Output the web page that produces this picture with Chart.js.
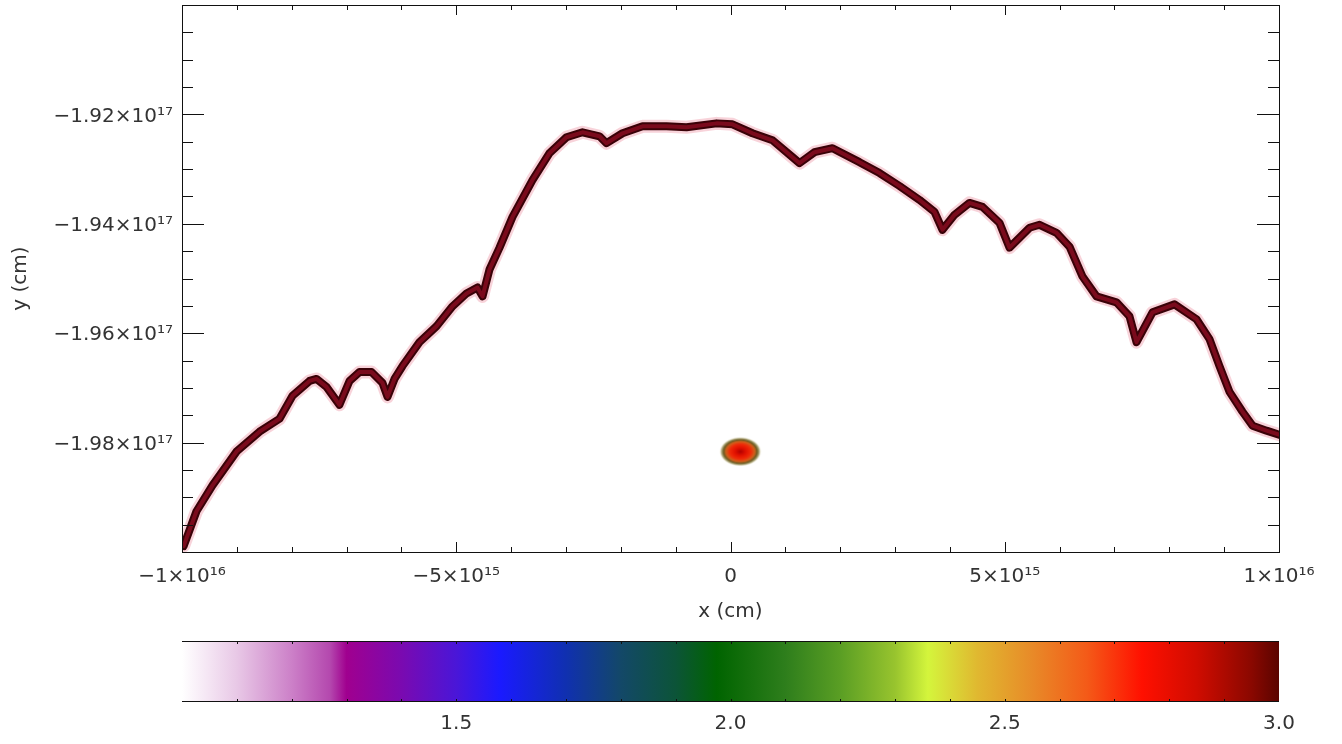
<!DOCTYPE html>
<html><head><meta charset="utf-8">
<script src="https://cdn.jsdelivr.net/npm/chart.js@4.4.1/dist/chart.umd.min.js"></script>
<style>
html,body{margin:0;padding:0;background:#fff;overflow:hidden}
#wrap{position:relative;width:1342px;height:744px;background:#fff}
#main{position:absolute;left:0;top:0}
#cbar{position:absolute;left:0;top:640px}
</style></head><body>
<div id="wrap"><canvas id="main" width="1342" height="640"></canvas><canvas id="cbar" width="1342" height="104"></canvas></div>
<script>
// ---- data (cm) ----
const frontX = [-9.97e15,-9.736e15,-9.444e15,-9.006e15,-8.587e15,-8.222e15,-7.985e15,-7.675e15,-7.548e15,-7.366e15,
  -7.129e15,-6.946e15,-6.764e15,-6.545e15,-6.345e15,-6.253e15,-6.126e15,-5.98e15,-5.67e15,-5.36e15,
  -5.068e15,-4.813e15,-4.613e15,-4.521e15,-4.394e15,-4.211e15,-3.974e15,-3.61e15,-3.3e15,-2.99e15,
  -2.698e15,-2.388e15,-2.261e15,-1.969e15,-1.604e15,-1.167e15,-0.802e15,-0.255e15,0.036e15,0.401e15,
  0.766e15,1.13e15,1.258e15,1.531e15,1.86e15,2.352e15,2.717e15,3.081e15,3.446e15,3.719e15,
  3.865e15,4.084e15,4.357e15,4.594e15,4.904e15,5.087e15,5.451e15,5.634e15,5.943e15,6.181e15,
  6.418e15,6.673e15,7.037e15,7.274e15,7.402e15,7.694e15,8.095e15,8.496e15,8.733e15,8.915e15,
  9.098e15,9.335e15,9.517e15,9.772e15,1.0e16];
const frontY = [-1.99891e17,-1.99255e17,-1.98782e17,-1.98164e17,-1.978e17,-1.97564e17,-1.97145e17,-1.96873e17,-1.96836e17,-1.96982e17,
  -1.97309e17,-1.96873e17,-1.96709e17,-1.96709e17,-1.96909e17,-1.97164e17,-1.96836e17,-1.966e17,-1.96164e17,-1.95873e17,
  -1.95509e17,-1.95273e17,-1.95164e17,-1.95327e17,-1.94836e17,-1.94436e17,-1.93873e17,-1.932e17,-1.92709e17,-1.92418e17,
  -1.92327e17,-1.924e17,-1.92527e17,-1.92345e17,-1.92218e17,-1.92218e17,-1.92236e17,-1.92164e17,-1.92182e17,-1.92345e17,
  -1.92473e17,-1.92782e17,-1.92891e17,-1.92691e17,-1.92618e17,-1.92873e17,-1.93073e17,-1.93309e17,-1.93564e17,-1.93782e17,
  -1.94109e17,-1.93836e17,-1.93618e17,-1.93691e17,-1.93982e17,-1.94436e17,-1.94073e17,-1.94018e17,-1.94164e17,-1.94418e17,
  -1.94964e17,-1.95327e17,-1.95436e17,-1.95691e17,-1.96164e17,-1.95618e17,-1.95473e17,-1.95745e17,-1.96109e17,-1.966e17,
  -1.97073e17,-1.97436e17,-1.97691e17,-1.97782e17,-1.97855e17];
const blobX = [1.8e14];
const blobY = [-1.98164e17];
const xRange = [-1e16, 1e16];
const yRange = [-2.0e17, -1.9e17];
const xTickValues = [-1e16, -5e15, 0, 5e15, 1e16];
const xTickLabels = ['\u22121\u00d710\u00b9\u2076', '\u22125\u00d710\u00b9\u2075', '0', '5\u00d710\u00b9\u2075', '1\u00d710\u00b9\u2076'];
const yTickValues = [-1.98e17, -1.96e17, -1.94e17, -1.92e17];
const yTickLabels = ['\u22121.98\u00d710\u00b9\u2077', '\u22121.96\u00d710\u00b9\u2077', '\u22121.94\u00d710\u00b9\u2077', '\u22121.92\u00d710\u00b9\u2077'];
const cbarRange = [1.0, 3.0];
const cbarTickValues = [1.5, 2.0, 2.5, 3.0];
const cbarTickLabels = ['1.5', '2.0', '2.5', '3.0'];

// ---- style ----
const FONT = {family: "'DejaVu Sans', sans-serif", size: 20};
const TXT = '#333';
// stops: [offset from colour-bar minimum, colour]
const cmapStops = [
  [0.00,'#ffffff'],[0.05,'#f4e4f3'],[0.10,'#e8c8e6'],[0.20,'#cc80c8'],[0.27,'#b448ae'],[0.30,'#a0008f'],
  [0.40,'#7a0ab0'],[0.50,'#4a16d8'],[0.58,'#1a1aff'],[0.70,'#1030b0'],[0.80,'#134868'],[0.90,'#0c5438'],
  [0.975,'#006400'],[1.10,'#2e7e1c'],[1.20,'#5a9e24'],[1.30,'#98c42e'],[1.36,'#d4f53c'],[1.45,'#e0b830'],
  [1.55,'#e88a28'],[1.65,'#f45a18'],[1.75,'#ff1000'],[1.85,'#d00c00'],[1.95,'#8a0800'],[2.00,'#5a0400']
];

function frameTicks(ctx, area, xs, ys) {
  ctx.save();
  ctx.strokeStyle = '#111';
  ctx.lineWidth = 1;
  ctx.beginPath();
  for (const t of xs) {
    const x = Math.round(t.p) + 0.5;
    ctx.moveTo(x, area.bottom); ctx.lineTo(x, area.bottom - t.len);
    ctx.moveTo(x, area.top); ctx.lineTo(x, area.top + t.len);
  }
  for (const t of ys) {
    const y = Math.round(t.p) + 0.5;
    ctx.moveTo(area.left, y); ctx.lineTo(area.left + t.len, y);
    ctx.moveTo(area.right, y); ctx.lineTo(area.right - t.len, y);
  }
  ctx.stroke();
  ctx.restore();
}

const mainFrame = {
  id: 'mainFrame',
  afterDraw(chart) {
    const {ctx, chartArea: a, scales} = chart;
    const xs = [], ys = [];
    for (let i = 0; i <= 20; i++) {
      const v = xRange[0] + i * 1e15;
      xs.push({p: scales.x.getPixelForValue(v), len: i % 5 === 0 ? 10 : 5});
    }
    for (let i = 0; i <= 20; i++) {
      const v = yRange[0] + i * 5e14;
      ys.push({p: scales.y.getPixelForValue(v), len: i % 4 === 0 ? 22 : 11});
    }
    frameTicks(ctx, a, xs, ys);
    ctx.save();
    ctx.strokeStyle = '#111'; ctx.lineWidth = 1;
    ctx.strokeRect(Math.round(a.left) + 0.5, Math.round(a.top) + 0.5, Math.round(a.right - a.left), Math.round(a.bottom - a.top));
    ctx.restore();
  }
};

function makeBlob() {
  const c = document.createElement('canvas');
  c.width = 44; c.height = 32;
  const g = c.getContext('2d');
  g.save();
  g.translate(22, 16); g.scale(1, 0.7);
  const rg = g.createRadialGradient(0, 0, 0, 0, 0, 21);
  rg.addColorStop(0, '#b00000');
  rg.addColorStop(0.25, '#e01000');
  rg.addColorStop(0.5, '#f02a08');
  rg.addColorStop(0.68, '#d0601c');
  rg.addColorStop(0.8, '#6a5a22');
  rg.addColorStop(0.9, 'rgba(120,110,40,0.6)');
  rg.addColorStop(1, 'rgba(255,240,200,0)');
  g.fillStyle = rg;
  g.beginPath(); g.arc(0, 0, 21, 0, Math.PI * 2); g.fill();
  g.restore();
  return c;
}

const pts = frontX.map((x, i) => ({x, y: frontY[i]}));

new Chart(document.getElementById('main'), {
  type: 'scatter',
  data: {
    // first dataset is drawn on top
    datasets: [
      {data: blobX.map((x, i) => ({x, y: blobY[i]})), pointStyle: makeBlob(), pointRadius: 16},
      {data: pts, showLine: true, pointRadius: 0, borderColor: '#7a0a1c', borderWidth: 4, borderJoinStyle: 'round', borderCapStyle: 'round'},
      {data: pts, showLine: true, pointRadius: 0, borderColor: '#3a0208', borderWidth: 8, borderJoinStyle: 'round', borderCapStyle: 'round'},
      {data: pts, showLine: true, pointRadius: 0, borderColor: 'rgba(235,130,150,0.35)', borderWidth: 13, borderJoinStyle: 'round', borderCapStyle: 'round'}
    ]
  },
  options: {
    responsive: false, animation: false, devicePixelRatio: 1,
    layout: {autoPadding: false, padding: {top: 5, right: 63, left: 0, bottom: 0}},
    plugins: {legend: {display: false}, tooltip: {enabled: false}},
    scales: {
      x: {
        type: 'linear', position: 'bottom', min: xRange[0], max: xRange[1],
        afterBuildTicks: s => { s.ticks = xTickValues.map(v => ({value: v})); },
        afterFit: s => { s.height = 88; s.paddingLeft = 0; s.paddingRight = 0; },
        grid: {display: false, drawTicks: false}, border: {display: false},
        ticks: {font: FONT, color: TXT, padding: 13, maxRotation: 0, autoSkip: false,
          callback: v => xTickLabels[xTickValues.indexOf(v)]},
        title: {display: true, text: 'x (cm)', font: FONT, color: TXT, padding: {top: 0, bottom: 16}}
      },
      y: {
        type: 'linear', position: 'left', min: yRange[0], max: yRange[1],
        afterBuildTicks: s => { s.ticks = yTickValues.map(v => ({value: v})); },
        afterFit: s => { s.width = 182; s.paddingTop = 0; s.paddingBottom = 0; },
        grid: {display: false, drawTicks: false}, border: {display: false},
        ticks: {font: FONT, color: TXT, padding: 9, labelOffset: 2, autoSkip: false,
          callback: v => yTickLabels[yTickValues.indexOf(v)]},
        title: {display: true, text: 'y (cm)', font: FONT, color: TXT, padding: {top: 9, bottom: 0}}
      }
    }
  },
  plugins: [mainFrame]
});

// ---- colour bar ----
const cbarFrame = {
  id: 'cbarFrame',
  afterDraw(chart) {
    const {ctx, chartArea: a, scales} = chart;
    ctx.save();
    ctx.strokeStyle = '#111'; ctx.lineWidth = 1;
    ctx.beginPath();
    ctx.moveTo(a.left, Math.round(a.top) + 0.5); ctx.lineTo(a.right, Math.round(a.top) + 0.5);
    ctx.moveTo(a.left, Math.round(a.bottom) - 0.5); ctx.lineTo(a.right, Math.round(a.bottom) - 0.5);
    for (let i = 1; i < 20; i++) {
      const x = Math.round(scales.x.getPixelForValue(cbarRange[0] + i * 0.1)) + 0.5;
      ctx.moveTo(x, a.top); ctx.lineTo(x, a.top + 3);
      ctx.moveTo(x, a.bottom); ctx.lineTo(x, a.bottom - 3);
    }
    ctx.stroke();
    ctx.restore();
  }
};

new Chart(document.getElementById('cbar'), {
  type: 'bar',
  data: {
    labels: [''],
    datasets: [{
      data: [cbarRange],
      borderWidth: 0, barPercentage: 1, categoryPercentage: 1,
      backgroundColor: c => {
        const a = c.chart.chartArea;
        if (!a) return '#fff';
        const g = c.chart.ctx.createLinearGradient(a.left, 0, a.right, 0);
        const span = cbarRange[1] - cbarRange[0];
        for (const [v, col] of cmapStops) g.addColorStop(Math.min(1, v / span), col);
        return g;
      }
    }]
  },
  options: {
    indexAxis: 'y', responsive: false, animation: false, devicePixelRatio: 1,
    layout: {autoPadding: false, padding: {top: 1, right: 63, left: 182, bottom: 0}},
    plugins: {legend: {display: false}, tooltip: {enabled: false}},
    scales: {
      y: {display: false},
      x: {
        type: 'linear', position: 'bottom', min: cbarRange[0], max: cbarRange[1],
        afterBuildTicks: s => { s.ticks = cbarTickValues.map(v => ({value: v})); },
        afterFit: s => { s.height = 42; s.paddingLeft = 0; s.paddingRight = 0; },
        grid: {display: false, drawTicks: false}, border: {display: false},
        ticks: {font: FONT, color: TXT, padding: 10, maxRotation: 0, autoSkip: false,
          callback: v => cbarTickLabels[cbarTickValues.indexOf(v)]}
      }
    }
  },
  plugins: [cbarFrame]
});
</script>
</body></html>
